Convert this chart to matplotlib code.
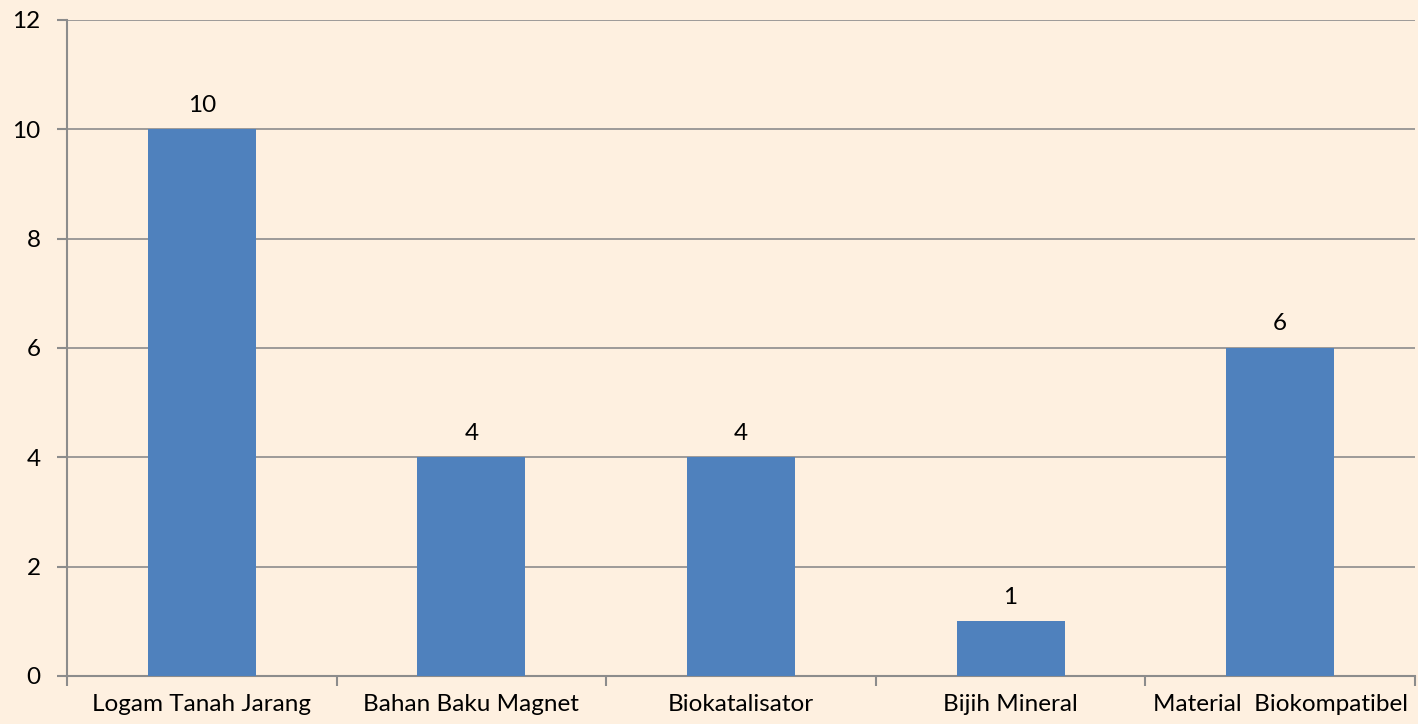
import matplotlib.pyplot as plt
import numpy as np

categories = ['Logam Tanah Jarang', 'Bahan Baku Magnet', 'Biokatalisator',
              'Bijih Mineral', 'Material  Biokompatibel']
values = [10, 4, 4, 1, 6]
yticks = [0, 2, 4, 6, 8, 10, 12]

bg = '#FEF0E0'
grid_col = '#8C8C8C'
fs = 17.5

plt.rcParams['font.family'] = ['Lato', 'DejaVu Sans']

fig = plt.figure(figsize=(14.18, 7.24), dpi=100, facecolor=bg)
ax = fig.add_axes([67 / 1418, 1 - 676 / 724, (1415 - 67) / 1418, (676 - 20) / 724])
ax.set_facecolor(bg)

x = np.arange(len(categories))
ax.bar(x, values, width=0.4, color='#4F81BD', zorder=3)
for xi, v in zip(x, values):
    ax.text(xi, v + 0.25, str(v), ha='center', va='bottom', fontsize=fs, color='black')

ax.set_xlim(-0.5, len(categories) - 0.5)
ax.set_ylim(0, 12)
ax.set_yticks(yticks)
ax.set_yticklabels([str(t) for t in yticks], fontsize=fs)
ax.yaxis.grid(True, color=grid_col, linewidth=1.2, zorder=0)

# category labels between boundary ticks
ax.set_xticks(np.arange(-0.5, len(categories), 1.0))
ax.set_xticklabels([])
ax.set_xticks(x, minor=True)
ax.set_xticklabels(categories, minor=True, fontsize=fs)
ax.tick_params(axis='x', which='minor', length=0, pad=13)
ax.tick_params(axis='x', which='major', length=7, color=grid_col, width=1.5)
ax.tick_params(axis='y', length=7, color=grid_col, width=1.5, pad=12)

for s in ['top', 'right']:
    ax.spines[s].set_visible(False)
for s in ['left', 'bottom']:
    ax.spines[s].set_color(grid_col)
    ax.spines[s].set_linewidth(1.5)

fig.savefig('out.png', dpi=100, facecolor=bg)
